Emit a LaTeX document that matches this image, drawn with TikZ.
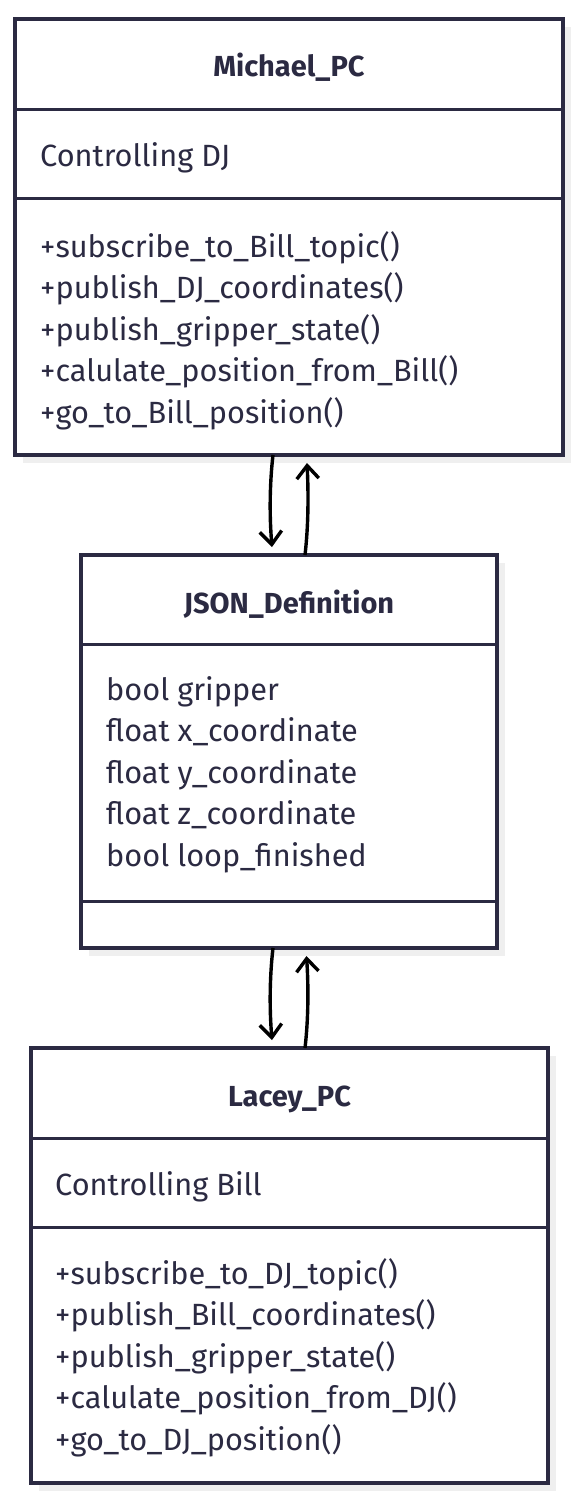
\documentclass[tikz,border=0pt]{standalone}
\usepackage{fontspec}
\setmainfont{Fira Sans}
\usetikzlibrary{arrows.meta}
\definecolor{ink}{RGB}{43,42,66}
\definecolor{shade}{RGB}{239,239,239}
\begin{document}
\begin{tikzpicture}[x=1pt,y=-1pt,
  box/.style={draw=ink, line width=3.4pt, fill=white, inner sep=0pt, outer sep=0pt, anchor=north west},
  shadowbox/.style={fill=shade},
  divider/.style={draw=ink, line width=3pt},
  txt/.style={text=ink, inner sep=0pt, anchor=base west, font=\fontsize{30.7}{30.7}\selectfont},
  ttl/.style={text=ink, inner sep=0pt, anchor=base, font=\fontsize{29}{29}\selectfont\bfseries},
  conn/.style={draw=black, line width=3.4pt, -{Straight Barb[length=13pt,width=22pt]}}]
\useasboundingbox[fill=white] (0,0) rectangle (579,1504);

% shadows
\fill[shadowbox] (23,27) rectangle (571,463);
\fill[shadowbox] (89,563) rectangle (505,956);
\fill[shadowbox] (39,1056) rectangle (556,1491);

% Michael_PC
\node[box, minimum width=548pt, minimum height=436pt] (michael) at (15,19) {};
\draw[divider] (michael.west |- 0,109) -- (michael.east |- 0,109);
\draw[divider] (michael.west |- 0,198) -- (michael.east |- 0,198);
\node[ttl] (mt) at (289,77) {Michael\_PC};
\node[txt] (ma) at (40,166) {Controlling DJ};
\node[txt] (m1) at (40,257) {+subscribe\_to\_Bill\_topic()};
\node[txt] (m2) at (40,298.5) {+publish\_DJ\_coordinates()};
\node[txt] (m3) at (40,340) {+publish\_gripper\_state()};
\node[txt] (m4) at (40,381.5) {+calulate\_position\_from\_Bill()};
\node[txt] (m5) at (40,423) {+go\_to\_Bill\_position()};

% JSON_Definition
\node[box, minimum width=416pt, minimum height=393pt] (json) at (81,555) {};
\draw[divider] (json.west |- 0,644) -- (json.east |- 0,644);
\draw[divider] (json.west |- 0,901) -- (json.east |- 0,901);
\node[ttl] (jt) at (289,613) {JSON\_Definition};
\node[txt] (j1) at (106,700) {bool gripper};
\node[txt] (j2) at (106,741.5) {float x\_coordinate};
\node[txt] (j3) at (106,783) {float y\_coordinate};
\node[txt] (j4) at (106,824.5) {float z\_coordinate};
\node[txt] (j5) at (106,866) {bool loop\_finished};

% Lacey_PC
\node[box, minimum width=517pt, minimum height=435pt] (lacey) at (31,1048) {};
\draw[divider] (lacey.west |- 0,1138) -- (lacey.east |- 0,1138);
\draw[divider] (lacey.west |- 0,1227) -- (lacey.east |- 0,1227);
\node[ttl] (lt) at (289.5,1106) {Lacey\_PC};
\node[txt] (la) at (55,1195) {Controlling Bill};
\node[txt] (l1) at (55,1284) {+subscribe\_to\_DJ\_topic()};
\node[txt] (l2) at (55,1325.5) {+publish\_Bill\_coordinates()};
\node[txt] (l3) at (55,1367) {+publish\_gripper\_state()};
\node[txt] (l4) at (55,1408.5) {+calulate\_position\_from\_DJ()};
\node[txt] (l5) at (55,1450) {+go\_to\_DJ\_position()};

% connectors
\draw[conn] ([xshift=-16pt]michael.south) .. controls (269.5,485) and (269.5,517) .. ([xshift=-17pt,yshift=8pt]json.north);
\draw[conn] ([xshift=16pt]json.north) .. controls (308.5,525) and (308.5,493) .. ([xshift=18pt,yshift=-8pt]michael.south);
\draw[conn] ([xshift=-16pt]json.south) .. controls (269.5,978) and (269.5,1010) .. ([xshift=-17.5pt,yshift=8pt]lacey.north);
\draw[conn] ([xshift=15.5pt]lacey.north) .. controls (308.5,1018) and (308.5,986) .. ([xshift=17.5pt,yshift=-8pt]json.south);
\end{tikzpicture}
\end{document}
